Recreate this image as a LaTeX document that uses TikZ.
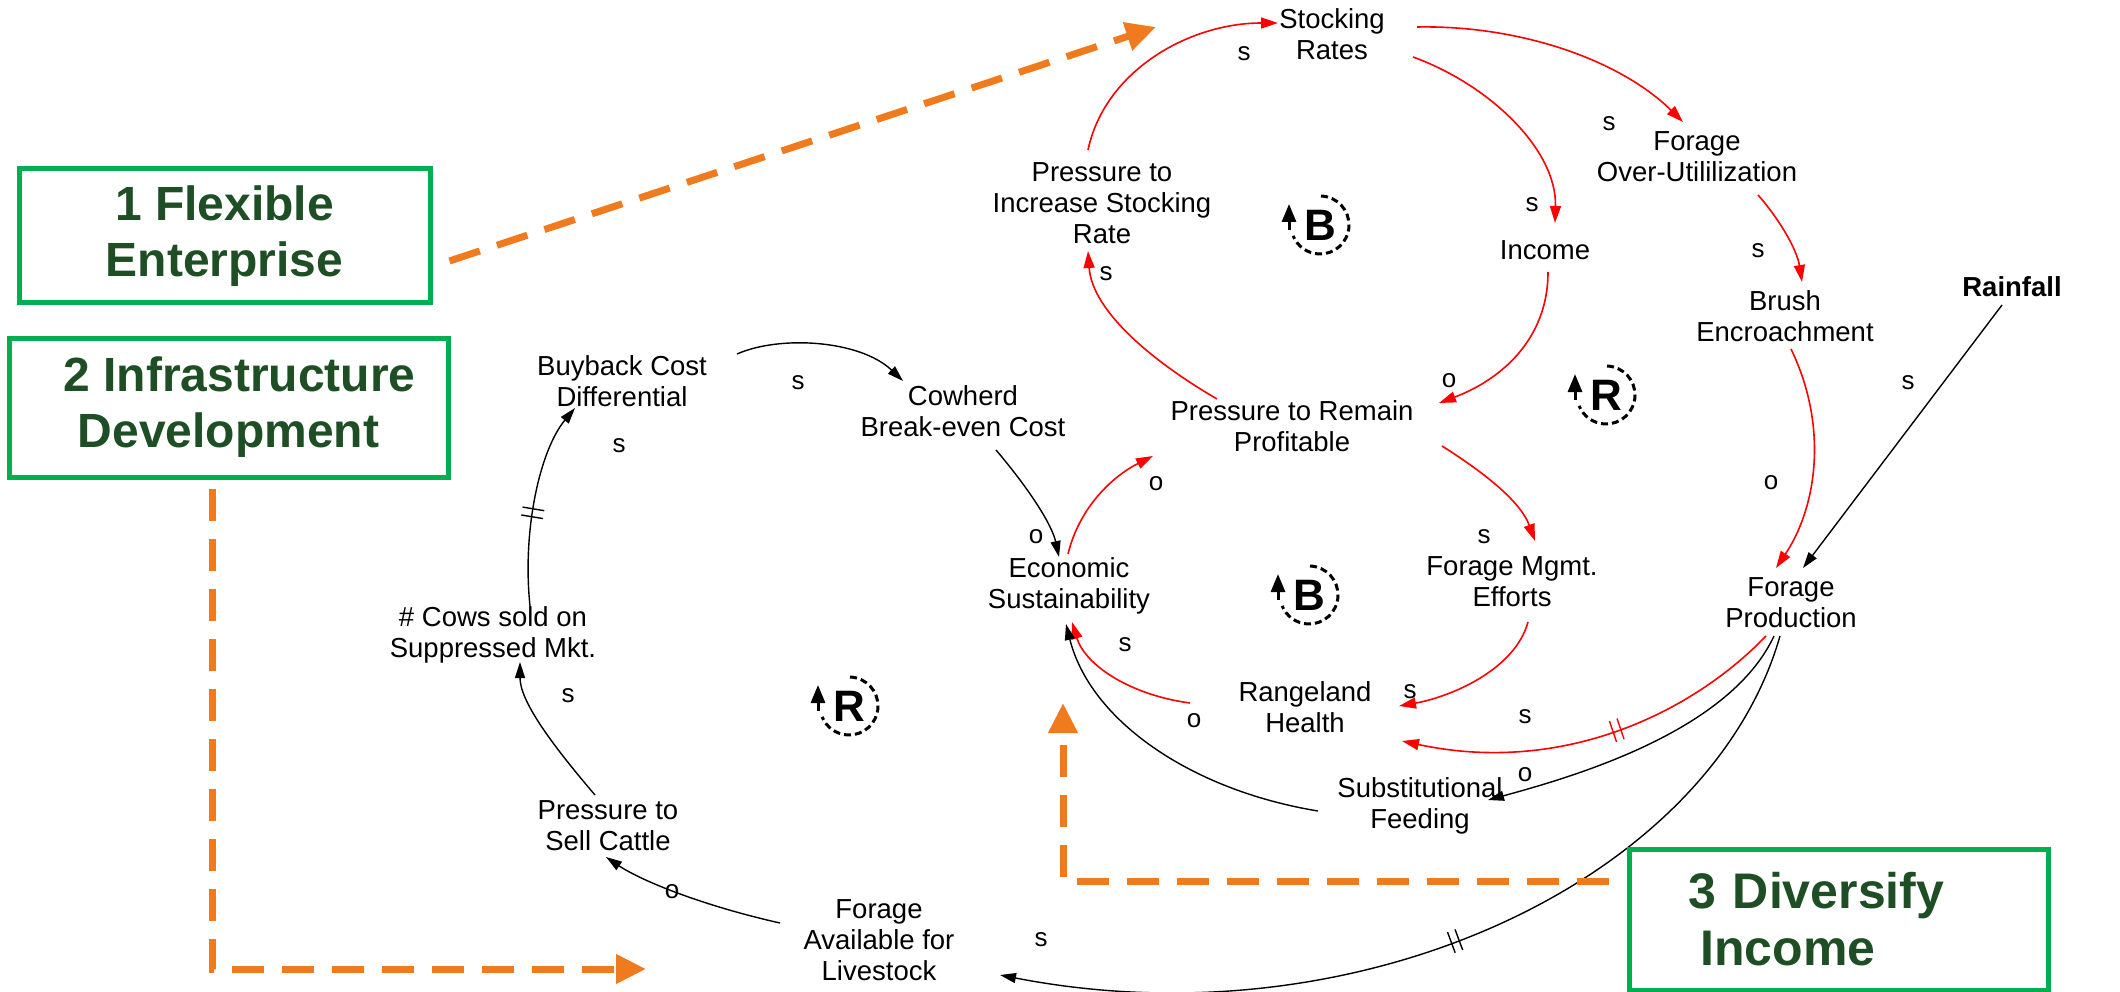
\documentclass[tikz,border=0pt]{standalone}
\usepackage{fontspec}
\setmainfont{Liberation Sans}
\usetikzlibrary{arrows.meta,calc,decorations.markings}
\definecolor{cldred}{HTML}{FF0000}
\definecolor{boxgreen}{HTML}{00B050}
\definecolor{txtgreen}{HTML}{1D4E24}
\definecolor{orng}{HTML}{F07A1E}
\tikzset{
  var/.style={font=\fontsize{27.5}{31}\selectfont, align=center, inner sep=2pt},
  pol/.style={font=\fontsize{26}{30}\selectfont, inner sep=0pt},
  redlink/.style={draw=cldred, line width=1.6pt, -{Triangle[length=17pt,width=11pt]}},
  blklink/.style={draw=black, line width=1.4pt, -{Triangle[length=16pt,width=10pt]}},
  delaymark/.style 2 args={postaction={decorate, decoration={markings,
      mark=at position #1 with {\draw[#2, line width=1.4pt, -] (-4pt,-11pt) -- (-4pt,11pt) (4pt,-11pt) -- (4pt,11pt);}}}},
  loopletter/.style={font=\fontsize{44}{44}\selectfont\bfseries, inner sep=0pt},
  loopdash/.style={line width=3pt, dash pattern=on 7pt off 4pt},
  greenbox/.style={draw=boxgreen, line width=5pt, font=\fontsize{48}{56}\selectfont\bfseries,
      text=txtgreen, align=center, inner sep=0pt},
  orangedash/.style={draw=orng, line width=7pt, dash pattern=on 32pt off 18pt,
      -{Triangle[length=30pt,width=28pt]}}
}
\newcommand\loopsym[3]{%
  \node[loopletter] (#1) at (#2) {#3};
  \draw[loopdash] ([shift={(88:29pt)}]#1.center) arc[start angle=88, end angle=-158, radius=29pt];
  \draw[line width=3pt, -{Triangle[length=18pt,width=14pt]}] ([shift={(-31pt,-5pt)}]#1.center) -- ([shift={(-31pt,21pt)}]#1.center);
}
\begin{document}
\begin{tikzpicture}[x=1pt,y=-1pt]
\fill[white] (0,0) rectangle (2120,992);
\useasboundingbox (0,0) rectangle (2120,992);

% variables
\node[var] (SR) at (1332,34) {Stocking\\Rates};
\node[var] (FOU) at (1697,157) {Forage\\Over-Utililization};
\node[var] (PISR) at (1102,203) {Pressure to\\Increase Stocking\\Rate};
\node[var] (INC) at (1545,250) {Income};
\node[var] (BE) at (1785,316) {Brush\\Encroachment};
\node[var, font=\fontsize{27.5}{31}\selectfont\bfseries] (RF) at (2012,287) {Rainfall};
\node[var] (BCD) at (622,381) {Buyback Cost\\Differential};
\node[var] (CBC) at (963,411) {Cowherd\\Break-even Cost};
\node[var] (PRP) at (1292,426) {Pressure to Remain\\Profitable};
\node[var] (ES) at (1069,586) {Economic\\Sustainability};
\node[var] (FME) at (1512,582) {Forage Mgmt.\\Efforts};
\node[var] (FP) at (1791,603) {Forage\\Production};
\node[var] (CSM) at (493,635) {\# Cows sold on\\Suppressed Mkt.};
\node[var] (RH) at (1305,707) {Rangeland\\Health};
\node[var] (SF) at (1420,806) {Substitutional\\Feeding};
\node[var] (PSC) at (608,826) {Pressure to\\Sell Cattle};
\node[var] (FAL) at (879,940) {Forage\\Available for\\Livestock};

% loop symbols
\loopsym{L1}{1320,225}{B}
\loopsym{L2}{1606,395}{R}
\loopsym{L3}{1309,595}{B}
\loopsym{L4}{849,706}{R}

% links
\draw[redlink] ($(PISR)+(-14,-53)$) .. controls (1105,70) and (1190,23) .. ($(SR)+(-54,-11)$);
\draw[redlink] ($(SR)+(81,23)$) .. controls (1490,85) and (1557,150) .. ($(INC)+(10,-27)$);
\draw[redlink] ($(SR)+(85,-7)$) .. controls (1520,25) and (1620,60) .. ($(FOU)+(-14,-35)$);
\draw[redlink] ($(INC)+(3,22)$) .. controls (1548,340) and (1500,380) .. ($(PRP)+(147,-23)$);
\draw[redlink] ($(PRP)+(-75,-27)$) .. controls (1150,360) and (1092,310) .. ($(PISR)+(-14,48)$);
\draw[redlink] ($(PRP)+(150,20)$) .. controls (1480,470) and (1520,500) .. ($(FME)+(23,-41)$);
\draw[redlink] ($(FME)+(16,40)$) .. controls (1515,670) and (1450,697) .. ($(RH)+(94,-1)$);
\draw[redlink] ($(RH)+(-115,-4)$) .. controls (1130,695) and (1085,665) .. ($(ES)+(3,36)$);
\draw[redlink] ($(ES)+(-1,-32)$) .. controls (1080,505) and (1115,475) .. ($(PRP)+(-139,30)$);
\draw[blklink] ($(CBC)+(33,39)$) .. controls (1030,490) and (1052,525) .. ($(ES)+(-10,-29)$);
\draw[blklink] ($(BCD)+(115,-27)$) .. controls (780,335) and (860,340) .. ($(CBC)+(-60,-30)$);
\draw[blklink, delaymark={0.45}{black}] ($(CSM)+(37,-29)$) .. controls (522,530) and (540,450) .. ($(BCD)+(-47,27)$);
\draw[blklink] ($(PSC)+(-13,-31)$) .. controls (548,740) and (520,700) .. ($(CSM)+(27,27)$);
\draw[blklink] ($(FAL)+(-99,-17)$) .. controls (700,905) and (640,880) .. ($(PSC)+(-2,31)$);
\draw[blklink, delaymark={0.5}{black}] ($(FP)+(-11,33)$) .. controls (1710,880) and (1360,1045) .. ($(FAL)+(121,35)$);
\draw[blklink] ($(FP)+(-17,33)$) .. controls (1730,730) and (1580,775) .. ($(SF)+(68,-6)$);
\draw[redlink, delaymark={0.45}{cldred}] ($(FP)+(-25,33)$) .. controls (1690,715) and (1560,775) .. ($(RH)+(97,34)$);
\draw[blklink] ($(SF)+(-102,5)$) .. controls (1190,790) and (1090,720) .. ($(ES)+(-3,38)$);
\draw[redlink] ($(BE)+(6,33)$) .. controls (1830,430) and (1815,510) .. ($(FP)+(-15,-35)$);
\draw[redlink] ($(FOU)+(61,38)$) .. controls (1780,220) and (1797,250) .. ($(BE)+(17,-34)$);
\draw[blklink] ($(RF)+(-10,18)$) -- ($(FP)+(12,-35)$);

% polarity labels
\node[pol] (p1) at (1244,54) {s};
\node[pol] (p2) at (1532,205) {s};
\node[pol] (p3) at (1609,124) {s};
\node[pol] (p4) at (1106,274) {s};
\node[pol] (p5) at (1449,381) {o};
\node[pol] (p6) at (1484,537) {s};
\node[pol] (p7) at (1410,692) {s};
\node[pol] (p8) at (1125,645) {s};
\node[pol] (p9) at (1156,484) {o};
\node[pol] (p10) at (1036,537) {o};
\node[pol] (p11) at (798,383) {s};
\node[pol] (p12) at (619,446) {s};
\node[pol] (p13) at (568,696) {s};
\node[pol] (p14) at (672,892) {o};
\node[pol] (p15) at (1041,940) {s};
\node[pol] (p16) at (1525,775) {o};
\node[pol] (p17) at (1525,717) {s};
\node[pol] (p18) at (1194,721) {o};
\node[pol] (p19) at (1771,483) {o};
\node[pol] (p20) at (1758,251) {s};
\node[pol] (p21) at (1908,383) {s};

% intervention boxes
\node[greenbox, minimum width=411pt, minimum height=134pt] (B1) at (224.5,236) {1 Flexible\\Enterprise};
\node[greenbox, minimum width=439pt, minimum height=139pt] (B2) at (228.5,407.5) {\hspace*{22pt}2 Infrastructure\\Development};
\node[greenbox, font=\fontsize{50}{57}\selectfont\bfseries, minimum width=419pt, minimum height=141pt,
      text width=300pt, align=left] (B3) at (1838.5,919.5) {3 Diversify\\\hspace*{12pt}Income};

% orange dashed arrows
\coordinate (oA) at (1156,27);
\coordinate (oB) at (646,969);
\coordinate (oC) at (1063,703);
\draw[orangedash] ($(B1)+(225,25)$) -- (oA);
\draw[orangedash] ($(B2)+(-16.5,81.5)$) |- (oB);
\draw[orangedash] ($(B3)+(-229.5,-38.5)$) -| (oC);
\end{tikzpicture}
\end{document}
